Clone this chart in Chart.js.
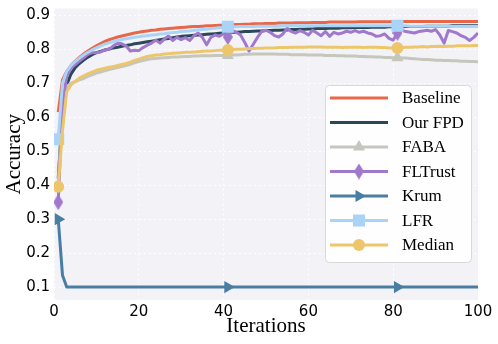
<!DOCTYPE html>
<html>
<head>
<meta charset="utf-8">
<script src="https://cdn.jsdelivr.net/npm/chart.js@4/dist/chart.umd.min.js"></script>
<style>
  html, body { margin: 0; padding: 0; background: #fff; }
  #wrap { width: 498px; height: 344px; }
</style>
</head>
<body>
<div id="wrap"><canvas id="chart" width="498" height="344"></canvas></div>
<script>
// x positions: iterations 1..100
const ITERATIONS = Array.from({ length: 100 }, (_, i) => i + 1);
const X_TICKS = [0, 20, 40, 60, 80, 100];
const Y_TICKS = [0.1, 0.2, 0.3, 0.4, 0.5, 0.6, 0.7, 0.8, 0.9];
const MARK_AT = [0, 40, 80]; // indices that carry a marker

const BASELINE = [
  0.615, 0.710, 0.735, 0.752, 0.765, 0.776, 0.786, 0.795, 0.803, 0.810,
  0.817, 0.823, 0.828, 0.832, 0.836, 0.839, 0.842, 0.845, 0.848, 0.850,
  0.852, 0.854, 0.856, 0.857, 0.859, 0.860, 0.861, 0.862, 0.863, 0.864,
  0.865, 0.866, 0.867, 0.867, 0.868, 0.869, 0.869, 0.870, 0.871, 0.871,
  0.872, 0.872, 0.873, 0.873, 0.874, 0.874, 0.875, 0.875, 0.875, 0.876,
  0.876, 0.876, 0.877, 0.877, 0.877, 0.877, 0.878, 0.878, 0.878, 0.878,
  0.879, 0.879, 0.879, 0.879, 0.880, 0.880, 0.880, 0.880, 0.880, 0.880,
  0.880, 0.881, 0.881, 0.881, 0.881, 0.881, 0.881, 0.881, 0.881, 0.881,
  0.882, 0.882, 0.882, 0.882, 0.882, 0.882, 0.882, 0.882, 0.882, 0.882,
  0.882, 0.882, 0.882, 0.882, 0.882, 0.882, 0.882, 0.882, 0.882, 0.882
];
const OUR_FPD = [
  0.420, 0.620, 0.695, 0.727, 0.746, 0.758, 0.768, 0.777, 0.784, 0.790,
  0.794, 0.798, 0.801, 0.804, 0.806, 0.809, 0.811, 0.813, 0.816, 0.818,
  0.820, 0.822, 0.824, 0.826, 0.828, 0.830, 0.832, 0.834, 0.836, 0.838,
  0.839, 0.840, 0.841, 0.842, 0.843, 0.844, 0.845, 0.846, 0.847, 0.848,
  0.849, 0.850, 0.850, 0.851, 0.852, 0.852, 0.853, 0.854, 0.854, 0.855,
  0.855, 0.856, 0.856, 0.857, 0.857, 0.858, 0.858, 0.859, 0.859, 0.860,
  0.860, 0.861, 0.861, 0.861, 0.862, 0.862, 0.862, 0.863, 0.863, 0.863,
  0.864, 0.864, 0.864, 0.864, 0.865, 0.865, 0.865, 0.865, 0.866, 0.866,
  0.866, 0.866, 0.867, 0.867, 0.867, 0.867, 0.867, 0.868, 0.868, 0.868,
  0.868, 0.868, 0.868, 0.869, 0.869, 0.869, 0.869, 0.869, 0.869, 0.869
];
const FABA = [
  0.400, 0.640, 0.690, 0.700, 0.705, 0.710, 0.714, 0.720, 0.725, 0.730,
  0.733, 0.737, 0.740, 0.743, 0.746, 0.749, 0.752, 0.756, 0.760, 0.764,
  0.767, 0.770, 0.772, 0.773, 0.774, 0.775, 0.776, 0.777, 0.777, 0.778,
  0.779, 0.779, 0.780, 0.780, 0.781, 0.781, 0.781, 0.782, 0.782, 0.782,
  0.782, 0.783, 0.783, 0.784, 0.785, 0.785, 0.786, 0.786, 0.786, 0.786,
  0.786, 0.786, 0.785, 0.785, 0.785, 0.784, 0.784, 0.784, 0.784, 0.783,
  0.783, 0.783, 0.783, 0.782, 0.782, 0.782, 0.781, 0.781, 0.780, 0.780,
  0.780, 0.779, 0.779, 0.778, 0.778, 0.777, 0.777, 0.776, 0.776, 0.775,
  0.775, 0.774, 0.774, 0.773, 0.772, 0.771, 0.770, 0.770, 0.769, 0.768,
  0.768, 0.767, 0.767, 0.766, 0.766, 0.765, 0.765, 0.764, 0.764, 0.763
];
const FLTRUST = [
  0.350, 0.640, 0.720, 0.745, 0.755, 0.765, 0.775, 0.785, 0.790, 0.790,
  0.792, 0.798, 0.800, 0.810, 0.818, 0.816, 0.810, 0.795, 0.797, 0.796,
  0.805, 0.812, 0.818, 0.827, 0.818, 0.830, 0.839, 0.826, 0.835, 0.828,
  0.834, 0.826, 0.840, 0.848, 0.835, 0.813, 0.835, 0.842, 0.838, 0.846,
  0.836, 0.856, 0.850, 0.842, 0.820, 0.795, 0.815, 0.835, 0.853, 0.856,
  0.850, 0.840, 0.836, 0.845, 0.862, 0.852, 0.848, 0.855, 0.850, 0.842,
  0.856, 0.848, 0.840, 0.852, 0.838, 0.850, 0.845, 0.848, 0.853, 0.850,
  0.855, 0.850, 0.853, 0.848, 0.845, 0.838, 0.840, 0.845, 0.832, 0.827,
  0.848, 0.856, 0.852, 0.850, 0.848, 0.852, 0.854, 0.856, 0.853, 0.858,
  0.842, 0.818, 0.855, 0.852, 0.848, 0.840, 0.835, 0.826, 0.835, 0.848
];
const KRUM = [
  0.300, 0.135, 0.100, 0.100, 0.100, 0.100, 0.100, 0.100, 0.100, 0.100,
  0.100, 0.100, 0.100, 0.100, 0.100, 0.100, 0.100, 0.100, 0.100, 0.100,
  0.100, 0.100, 0.100, 0.100, 0.100, 0.100, 0.100, 0.100, 0.100, 0.100,
  0.100, 0.100, 0.100, 0.100, 0.100, 0.100, 0.100, 0.100, 0.100, 0.100,
  0.100, 0.100, 0.100, 0.100, 0.100, 0.100, 0.100, 0.100, 0.100, 0.100,
  0.100, 0.100, 0.100, 0.100, 0.100, 0.100, 0.100, 0.100, 0.100, 0.100,
  0.100, 0.100, 0.100, 0.100, 0.100, 0.100, 0.100, 0.100, 0.100, 0.100,
  0.100, 0.100, 0.100, 0.100, 0.100, 0.100, 0.100, 0.100, 0.100, 0.100,
  0.100, 0.100, 0.100, 0.100, 0.100, 0.100, 0.100, 0.100, 0.100, 0.100,
  0.100, 0.100, 0.100, 0.100, 0.100, 0.100, 0.100, 0.100, 0.100, 0.100
];
const LFR = [
  0.535, 0.700, 0.735, 0.752, 0.764, 0.774, 0.783, 0.791, 0.798, 0.804,
  0.810, 0.815, 0.819, 0.823, 0.826, 0.829, 0.831, 0.833, 0.835, 0.837,
  0.839, 0.840, 0.842, 0.843, 0.845, 0.846, 0.848, 0.849, 0.850, 0.852,
  0.853, 0.854, 0.856, 0.857, 0.858, 0.859, 0.861, 0.862, 0.863, 0.864,
  0.866, 0.866, 0.866, 0.867, 0.867, 0.867, 0.867, 0.868, 0.868, 0.868,
  0.868, 0.868, 0.868, 0.869, 0.869, 0.869, 0.869, 0.869, 0.869, 0.869,
  0.869, 0.869, 0.869, 0.869, 0.869, 0.869, 0.869, 0.869, 0.869, 0.869,
  0.869, 0.869, 0.869, 0.869, 0.869, 0.869, 0.869, 0.869, 0.869, 0.869,
  0.869, 0.869, 0.869, 0.868, 0.868, 0.868, 0.868, 0.868, 0.868, 0.868,
  0.868, 0.868, 0.868, 0.867, 0.867, 0.867, 0.867, 0.867, 0.867, 0.867
];
const MEDIAN = [
  0.395, 0.560, 0.675, 0.695, 0.705, 0.715, 0.722, 0.728, 0.733, 0.738,
  0.741, 0.744, 0.747, 0.749, 0.752, 0.755, 0.758, 0.762, 0.767, 0.771,
  0.775, 0.779, 0.781, 0.783, 0.784, 0.786, 0.787, 0.788, 0.789, 0.790,
  0.791, 0.791, 0.792, 0.793, 0.794, 0.795, 0.795, 0.796, 0.797, 0.797,
  0.798, 0.799, 0.800, 0.800, 0.801, 0.802, 0.802, 0.803, 0.803, 0.804,
  0.804, 0.804, 0.805, 0.805, 0.805, 0.806, 0.806, 0.806, 0.806, 0.807,
  0.807, 0.807, 0.807, 0.806, 0.806, 0.806, 0.806, 0.805, 0.806, 0.806,
  0.806, 0.806, 0.805, 0.806, 0.806, 0.806, 0.805, 0.805, 0.804, 0.804,
  0.804, 0.805, 0.806, 0.806, 0.807, 0.807, 0.808, 0.807, 0.808, 0.808,
  0.809, 0.808, 0.809, 0.809, 0.810, 0.810, 0.810, 0.810, 0.811, 0.811
];

const SERIES = [
  { label: 'Baseline', data: BASELINE, color: '#e8674a', style: null },
  { label: 'Our FPD', data: OUR_FPD, color: '#2a4858', style: null },
  { label: 'FABA', data: FABA, color: '#c5c7bd', style: 'triangle', radius: 7 },
  { label: 'FLTrust', data: FLTRUST, color: '#a078cc', style: 'thinDiamond' },
  { label: 'Krum', data: KRUM, color: '#487ea3', style: 'triangle', radius: 7, rotation: 90 },
  { label: 'LFR', data: LFR, color: '#a9d3f7', style: 'rect', radius: 8.5 },
  { label: 'Median', data: MEDIAN, color: '#edc66c', style: 'circle', radius: 6 },
];

function thinDiamond(color, w, h) {
  const c = document.createElement('canvas');
  c.width = w;
  c.height = h;
  const g = c.getContext('2d');
  g.fillStyle = color;
  g.beginPath();
  g.moveTo(w / 2, 0);
  g.lineTo(w, h / 2);
  g.lineTo(w / 2, h);
  g.lineTo(0, h / 2);
  g.closePath();
  g.fill();
  return c;
}

SERIES.forEach((s) => {
  if (s.style === 'thinDiamond') s.pointStyle = thinDiamond(s.color, 10, 16);
  else s.pointStyle = s.style || 'circle';
});

const plotBg = {
  id: 'plotBg',
  beforeDraw(chart) {
    const { ctx, chartArea: a } = chart;
    ctx.save();
    ctx.fillStyle = '#ffffff';
    ctx.fillRect(0, 0, chart.width, chart.height);
    ctx.fillStyle = '#f3f3f7';
    ctx.fillRect(a.left, a.top, a.right - a.left, a.bottom - a.top);
    ctx.restore();
  },
};

const boxLegend = {
  id: 'boxLegend',
  afterDraw(chart) {
    const { ctx } = chart;
    const x0 = 325, y0 = 85, w = 146, h = 177;
    ctx.save();
    ctx.beginPath();
    ctx.roundRect(x0 + 0.5, y0 + 0.5, w, h, 4);
    ctx.fillStyle = 'rgba(255,255,255,0.85)';
    ctx.fill();
    ctx.strokeStyle = '#d8d8d8';
    ctx.lineWidth = 1;
    ctx.stroke();

    ctx.font = '17px "Liberation Serif", "Times New Roman", serif';
    ctx.textBaseline = 'middle';
    ctx.textAlign = 'left';
    SERIES.forEach((s, i) => {
      const y = 98 + i * 24.5;
      ctx.strokeStyle = s.color;
      ctx.lineWidth = 3;
      ctx.beginPath();
      ctx.moveTo(330, y);
      ctx.lineTo(388, y);
      ctx.stroke();
      if (s.style) {
        ctx.fillStyle = s.color;
        Chart.helpers.drawPoint(ctx, {
          pointStyle: s.pointStyle,
          radius: s.radius || 7,
          rotation: s.rotation || 0,
          borderWidth: 0,
        }, 359, y);
      }
      ctx.fillStyle = '#000';
      ctx.fillText(s.label, 402, y + 1);
    });
    ctx.restore();
  },
};

const datasets = SERIES.map((s, i) => ({
  label: s.label,
  data: ITERATIONS.map((x, j) => ({ x, y: s.data[j] })),
  borderColor: s.color,
  backgroundColor: s.color,
  borderWidth: 3,
  borderJoinStyle: 'round',
  tension: 0,
  order: SERIES.length - i,
  pointStyle: s.pointStyle,
  pointRotation: s.rotation || 0,
  pointBorderWidth: 0,
  pointRadius: (ctx) => (s.style && MARK_AT.includes(ctx.dataIndex) ? (s.radius || 7) : 0),
}));

const tickFont = { family: '"DejaVu Sans", sans-serif', size: 15 };
const titleFont = { family: '"Liberation Serif", "Times New Roman", serif', size: 21 };

// fixed plot box: left 54, right 478, top 5, bottom 300
function fitX(scale) {
  scale.height = 44;
  scale.paddingLeft = 0;
  scale.paddingRight = 0;
}
function fitY(scale) {
  scale.width = 54;
  scale.paddingTop = 0;
  scale.paddingBottom = 0;
}

new Chart(document.getElementById('chart'), {
  type: 'line',
  data: { datasets },
  options: {
    responsive: false,
    animation: false,
    layout: { padding: { left: 0, right: 20, top: 5, bottom: 0 } },
    plugins: { legend: { display: false }, tooltip: { enabled: false } },
    scales: {
      x: {
        type: 'linear',
        min: 0,
        max: 100,
        afterBuildTicks: (scale) => { scale.ticks = X_TICKS.map((v) => ({ value: v })); },
        afterFit: fitX,
        ticks: { font: tickFont, color: '#000', padding: 3, maxRotation: 0 },
        grid: { color: '#ffffff', lineWidth: 1, drawTicks: false },
        border: { display: false, dash: [2, 3] },
        title: { display: true, text: 'Iterations', font: titleFont, color: '#000', padding: { top: 0, bottom: 5 } },
      },
      y: {
        min: 0.062,
        max: 0.92,
        afterBuildTicks: (scale) => { scale.ticks = Y_TICKS.map((v) => ({ value: v })); },
        afterFit: fitY,
        ticks: { font: tickFont, color: '#000', padding: 4, callback: (v) => v.toFixed(1) },
        grid: { color: '#ffffff', lineWidth: 1, drawTicks: false },
        border: { display: false, dash: [2, 3] },
        title: { display: true, text: 'Accuracy', font: titleFont, color: '#000', padding: { top: 2, bottom: 0 } },
      },
    },
  },
  plugins: [plotBg, boxLegend],
});
</script>
</body>
</html>
